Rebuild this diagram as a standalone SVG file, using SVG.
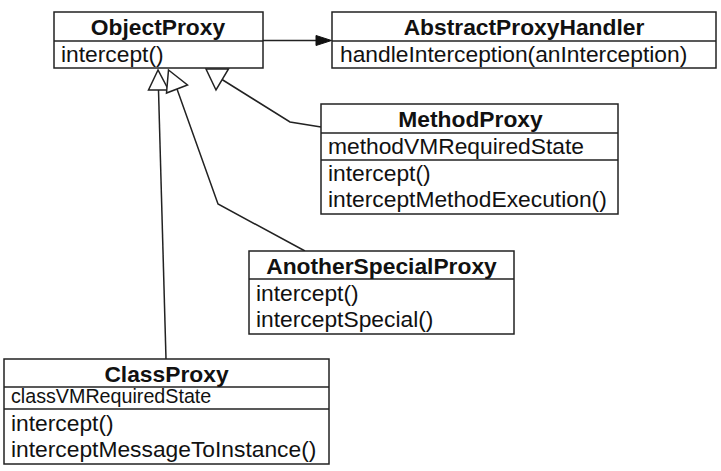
<svg xmlns="http://www.w3.org/2000/svg" width="721" height="471" viewBox="0 0 721 471">
<style>
.box{fill:#fff;stroke:#222;stroke-width:1.5}
.div{stroke:#222;stroke-width:1.5}
.t{font-family:"Liberation Sans",Arial,Helvetica,sans-serif;font-size:22.8px;fill:#111;font-weight:bold;text-anchor:middle}
.m{font-family:"Liberation Sans",Arial,Helvetica,sans-serif;font-size:22.8px;fill:#111}
.s{font-family:"Liberation Sans",Arial,Helvetica,sans-serif;font-size:19.7px;fill:#111}
.ln{fill:none;stroke:#222;stroke-width:1.5}
.gen{fill:#fff;stroke:#222;stroke-width:1.5;stroke-linejoin:miter}
</style>
<rect width="721" height="471" fill="#fff"/>
<g id="connectors">
  <line class="ln" x1="263" y1="40.5" x2="318" y2="40.5"/>
  <polygon points="316,35.5 331.5,40.5 316,45.5" fill="#111" stroke="#111" stroke-width="1"/>
  <line class="ln" x1="158.5" y1="90" x2="166" y2="359"/>
  <polyline class="ln" points="177,89 218,204 305,251"/>
  <polyline class="ln" points="222,79.5 290,122 321,127"/>
  <polygon class="gen" points="158,70 148.5,90 168.5,90"/>
  <polygon class="gen" points="168.5,70 187.5,85 166.5,93"/>
  <polygon class="gen" points="206,69 228.5,69 216,90"/>
</g>
<g id="ObjectProxy">
  <rect class="box" x="54" y="12" width="209" height="56"/>
  <line class="div" x1="54" y1="41" x2="263" y2="41"/>
  <text class="t" x="158" y="35">ObjectProxy</text>
  <text class="m" x="61" y="62">intercept()</text>
</g>
<g id="AbstractProxyHandler">
  <rect class="box" x="332" y="12" width="384" height="56"/>
  <line class="div" x1="332" y1="41" x2="716" y2="41"/>
  <text class="t" x="524" y="35">AbstractProxyHandler</text>
  <text class="m" x="340" y="62">handleInterception(anInterception)</text>
</g>
<g id="MethodProxy">
  <rect class="box" x="321" y="104" width="297" height="110"/>
  <line class="div" x1="321" y1="133" x2="618" y2="133"/>
  <line class="div" x1="321" y1="160" x2="618" y2="160"/>
  <text class="t" x="470.5" y="127">MethodProxy</text>
  <text class="m" x="328" y="154">methodVMRequiredState</text>
  <text class="m" x="328" y="181">intercept()</text>
  <text class="m" x="328" y="207">interceptMethodExecution()</text>
</g>
<g id="AnotherSpecialProxy">
  <rect class="box" x="249" y="251" width="265" height="83"/>
  <line class="div" x1="249" y1="279" x2="514" y2="279"/>
  <text class="t" x="381.5" y="274">AnotherSpecialProxy</text>
  <text class="m" x="256" y="301">intercept()</text>
  <text class="m" x="256" y="327">interceptSpecial()</text>
</g>
<g id="ClassProxy">
  <rect class="box" x="4" y="359" width="325" height="105"/>
  <line class="div" x1="4" y1="387" x2="329" y2="387"/>
  <line class="div" x1="4" y1="409" x2="329" y2="409"/>
  <text class="t" x="166.5" y="382">ClassProxy</text>
  <text class="s" x="11" y="403">classVMRequiredState</text>
  <text class="m" x="11" y="431">intercept()</text>
  <text class="m" x="11" y="457">interceptMessageToInstance()</text>
</g>
</svg>
